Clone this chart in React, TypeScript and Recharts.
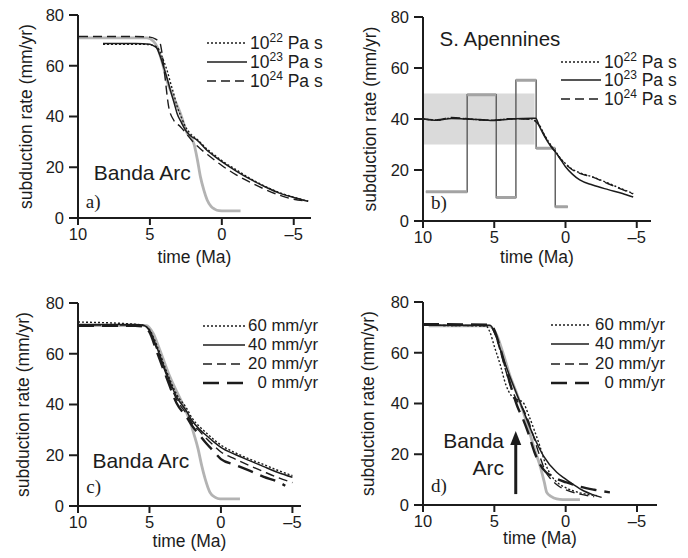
import React from "react";
import {
  LineChart,
  Line,
  XAxis,
  YAxis,
  ReferenceArea,
  ReferenceDot,
  ReferenceLine,
} from "recharts";

const FONT = '"Liberation Sans", Arial, Helvetica, sans-serif';
const SERIF = '"Liberation Serif", "Times New Roman", Times, serif';
const INK = "#1c1c1c";
const OBS = "#b3b3b3";

const timeTicks = [10, 5, 0, -5];
const rateTicks = [0, 20, 40, 60, 80];

// a) Banda Arc, three mantle viscosities
const aObsT = [9.93, 5.2, 4.75, 4.5, 4.16, 3.81, 3.35, 2.88, 2.42, 1.95, 1.7, 1.49, 1.25, 1.02, 0.75, 0.5, 0.2, -0.2, -1.3];
const aObsV = [71, 71, 69.6, 67.5, 61.6, 54, 47.5, 41.2, 33.5, 29.4, 23, 16.3, 11, 7.1, 4.6, 3.5, 2.9, 2.8, 2.8];
const aModT = [8.26, 6, 5.0, 4.7, 4.5, 4.3, 4.05, 3.8, 3.58, 3.3, 3.11, 2.8, 2.53, 2.2, 1.72, 1.0, 0.5, 0, -1, -2, -3, -4, -5, -6];
const a22V = [68.5, 68.5, 68.3, 67.8, 67.3, 65.5, 62, 58, 53.5, 48, 44, 39.5, 36, 33.3, 31, 27, 24.8, 22.6, 19, 15.5, 12.5, 10, 8.2, 6.6];
const a23V = [68.8, 68.8, 68.5, 67.7, 66.8, 64, 59.6, 55, 50.4, 45, 41.2, 37.5, 34.6, 32.5, 30.7, 26.5, 24.3, 22.2, 18.5, 15.2, 12.3, 9.8, 8.1, 6.6];
const a24T = [9.93, 6, 5.0, 4.6, 4.3, 4.16, 4.0, 3.7, 3.35, 2.88, 2.5, 2.0, 1.5, 1.0, 0.5, 0, -1, -2, -3, -4, -5, -6];
const a24V = [71.5, 71.5, 71.3, 70.5, 69, 65, 58, 44, 38.6, 36, 33.5, 30, 27.3, 25, 22.8, 20.7, 17, 14, 11.3, 9, 7.4, 6.6];

// b) S. Apennines
const bBand = { t0: 10, t1: 2.17, lo: 30, hi: 50 };
const bStepT = [9.8, 6.9, 4.86, 3.48, 2.06, 0.72, -0.16];
const bStepV = [11.5, 49.5, 9.2, 55.2, 28.5, 5.6];
const bModT = [10, 9, 8, 7, 6, 5, 4, 3, 2.3, 2.1, 1.82, 1.5, 1.0, 0.65, 0.3, 0, -0.5, -1, -1.9, -3, -4, -4.75];
const b22V = [40, 39.6, 40.4, 40.1, 39.7, 39.5, 40, 40.1, 40, 39.2, 37.5, 34, 29.5, 26.9, 24.2, 22.5, 20.2, 18.9, 17.3, 14.8, 12.5, 10.8];
const b23V = [40, 39.5, 40.2, 40, 39.8, 39.4, 39.9, 40.2, 40.3, 40.3, 37, 33.5, 29, 26.6, 23.8, 21.3, 18.3, 16.1, 14.1, 12.3, 10.8, 9.4];
const b24V = [40, 39.7, 40.6, 40.2, 39.6, 39.5, 40.1, 40, 39.8, 39, 37.3, 33.8, 29.3, 26.7, 24, 22.3, 20, 18.7, 17.2, 14.6, 12.3, 10.6];

// c) Banda Arc, plate speeds
const cObsT = [9.95, 5.2, 4.74, 4.27, 3.57, 2.87, 2.5, 2.17, 1.9, 1.6, 1.35, 1.1, 0.77, 0.4, 0.07, -1.33];
const cObsV = [71.1, 71.1, 68, 61.4, 50.9, 42.5, 38, 33.5, 28.5, 22.5, 16, 10.6, 5.4, 3.4, 2.8, 2.8];
const cModT = [10, 6, 5.5, 5.0, 4.5, 3.8, 3.1, 2.4, 2.0, 1.5, 1.0, 0.5, 0, -1, -2, -3, -4, -5];
const c60V = [72.5, 71.6, 71.3, 69.5, 63.5, 53, 44, 38.5, 34.5, 31.3, 28.7, 26.2, 24, 21, 18.5, 16.3, 14, 12];
const c40V = [71.5, 71.5, 71.3, 69.3, 62.7, 52.2, 43, 37.3, 33.5, 30.2, 27.7, 25.3, 23.1, 20.3, 17.9, 15.5, 13.2, 11.3];
const c20V = [71.3, 71.3, 71.2, 69, 62, 51.5, 42, 36.2, 32.5, 29.5, 26.5, 23.8, 21.3, 18.5, 15.9, 13.5, 11.2, 9.2];
const c0T = [10, 6, 5.5, 5.0, 4.5, 3.8, 3.1, 2.4, 2.0, 1.5, 1.0, 0.5, 0, -1, -2, -3, -4, -4.5];
const c0V = [71, 71, 70.8, 68.5, 61, 50.5, 40.5, 35, 31.5, 28, 24.5, 21.5, 18.5, 16.2, 13.9, 11.5, 9.5, 8];

// d) Banda Arc, plate speeds (second set)
const dObsT = [9.6, 5.4, 4.8, 4.4, 3.9, 3.4, 2.96, 2.6, 2.26, 1.8, 1.5, 1.33, 1.0, 0.63, 0.2, -1];
const dObsV = [70.6, 70.6, 66.6, 60, 50.9, 43.5, 36.5, 30, 23.3, 15.5, 9, 5, 3.3, 2.4, 2.1, 2.1];
const d60T = [10, 5.6, 5.3, 5.0, 4.6, 4.2, 3.8, 3.4, 3.0, 2.6, 2.2, 1.8, 1.4, 1.0, 0.5, 0, -1, -2.2];
const d60V = [70.8, 70.6, 68, 62.5, 55.5, 47.5, 43, 41.5, 40.5, 35.5, 29.5, 23, 16, 11.5, 8.5, 6.8, 4.8, 3.7];
const d40T = [10, 5.3, 4.94, 4.36, 3.66, 2.96, 2.26, 1.56, 0.63, 0, -0.6, -1.24, -1.9, -2.52];
const d40V = [70.8, 70.8, 67.3, 57.4, 47, 37.1, 27.3, 19.4, 12.9, 10.2, 7.8, 5.6, 4.1, 3.0];
const d20T = [10, 5.3, 5.0, 4.6, 4.2, 3.8, 3.4, 3.0, 2.6, 2.2, 1.8, 1.4, 1.0, 0.5, 0, -1, -2];
const d20V = [70.8, 70.6, 68, 61, 53, 46, 41, 38, 33, 26, 19, 13, 10, 7.5, 6, 4.3, 3.3];
const d0T = [10, 5.3, 5.0, 4.6, 4.2, 3.8, 3.4, 3.0, 2.6, 2.2, 1.8, 1.4, 1.0, 0.5, 0, -1, -2, -3.1];
const d0V = [71.3, 71, 69, 62, 54, 46, 39, 34, 28, 21, 16, 13, 11.5, 10, 9, 7.2, 6, 5];
const dArrow = { t: 3.5, from: 4.3, to: 24, tip: 29.2 };

const viscExps = ["22", "23", "24"];
const pullRates = ["60", "40", "20", "0"];

const pts = (ts: number[], vs: (number | null)[]) => ts.map((t, i) => ({ t, v: vs[i] }));
const fmtTime = (v: number) => (v < 0 ? `\u2013${-v}` : `${v}`);

const DOT = { dash: "2 2", w: 1.4 };
const SOLID = { dash: undefined as string | undefined, w: 1.5 };
const DASH = { dash: "9 5", w: 1.4 };
const LONG = { dash: "16 8", w: 2.4 };

const model = (key: string, data: any[], st: { dash?: string; w: number }) => (
  <Line
    key={key}
    data={data}
    dataKey="v"
    type="monotone"
    stroke={INK}
    strokeWidth={st.w}
    strokeDasharray={st.dash}
    dot={false}
    activeDot={false}
    isAnimationActive={false}
  />
);

const observed = (key: string, data: any[]) => (
  <Line
    key={key}
    data={data}
    dataKey="v"
    type="monotone"
    stroke={OBS}
    strokeWidth={2.8}
    dot={false}
    activeDot={false}
    isAnimationActive={false}
  />
);

const note = (key: string, t: number, v: number, text: string, size: number, serif = false, pos: any = "center") => (
  <ReferenceDot
    key={key}
    x={t}
    y={v}
    r={0}
    fill="none"
    stroke="none"
    label={{ value: text, position: pos, offset: 0, fontSize: size, fontFamily: serif ? SERIF : FONT, fill: INK }}
  />
);

const ArrowHead = (props: any) => {
  const { cx, cy } = props;
  return <path d={`M${cx},${cy} L${cx - 5.5},${cy + 14} L${cx + 5.5},${cy + 14} Z`} fill={INK} />;
};

type Frame = { top: number; right: number; xh: number; yw: number; xMin: number; tOff: number; yOff: number };

function Panel({ left, top, f, children, legend }: { left: number; top: number; f: Frame; children: React.ReactNode; legend: React.ReactNode }) {
  return (
    <div style={{ position: "absolute", left, top, width: 344, height: 279 }}>
      <LineChart width={344} height={279} margin={{ top: f.top, right: f.right, bottom: 0, left: 0 }}>
        <XAxis
          type="number"
          dataKey="t"
          domain={[f.xMin, 10]}
          reversed
          ticks={timeTicks}
          interval={0}
          allowDataOverflow
          height={f.xh}
          tickFormatter={fmtTime}
          tickSize={7}
          tickMargin={3}
          axisLine={{ stroke: INK, strokeWidth: 2 }}
          tickLine={{ stroke: INK, strokeWidth: 2 }}
          tick={{ fill: INK, fontSize: 16.5, fontFamily: FONT }}
          label={{ value: "time (Ma)", position: "insideBottom", offset: f.tOff, fill: INK, fontSize: 17.5, fontFamily: FONT }}
        />
        <YAxis
          type="number"
          domain={[0, 80]}
          ticks={rateTicks}
          interval={0}
          width={f.yw}
          tickSize={9}
          tickMargin={5}
          axisLine={{ stroke: INK, strokeWidth: 2 }}
          tickLine={{ stroke: INK, strokeWidth: 2 }}
          tick={{ fill: INK, fontSize: 16.5, fontFamily: FONT }}
          label={{
            value: "subduction rate (mm/yr)",
            angle: -90,
            position: "insideLeft",
            offset: f.yOff,
            style: { textAnchor: "middle" },
            fill: INK,
            fontSize: 17.5,
            fontFamily: FONT,
          }}
        />
        {children}
      </LineChart>
      {legend}
    </div>
  );
}

type Row = { label: React.ReactNode; st: { dash?: string; w: number } };

function Key({ rows, y0, gap, x0, x1, size, textLeft, textRight }: { rows: Row[]; y0: number; gap: number; x0: number; x1: number; size: number; textLeft?: number; textRight?: number }) {
  return (
    <>
      {rows.map((r, i) => {
        const yc = y0 + i * gap;
        const w = x1 - x0;
        const place = textRight != null ? { right: 344 - textRight, textAlign: "right" as const } : { left: textLeft };
        return (
          <React.Fragment key={i}>
            <svg style={{ position: "absolute", left: x0, top: yc - 3 }} width={w} height={6}>
              <line x1={0} y1={3} x2={w} y2={3} stroke={INK} strokeWidth={r.st.w} strokeDasharray={r.st.dash} />
            </svg>
            <div
              style={{
                position: "absolute",
                top: yc - 10,
                height: 20,
                lineHeight: "20px",
                fontSize: size,
                fontFamily: FONT,
                color: INK,
                whiteSpace: "nowrap",
                ...place,
              }}
            >
              {r.label}
            </div>
          </React.Fragment>
        );
      })}
    </>
  );
}

const viscLabel = (e: string) => (
  <span>
    10<span style={{ fontSize: 12, position: "relative", top: -7, lineHeight: 1 }}>{e}</span> Pa s
  </span>
);

const viscRows: Row[] = viscExps.map((e, i) => ({ label: viscLabel(e), st: [DOT, SOLID, DASH][i] }));
const rateRows: Row[] = pullRates.map((r, i) => ({ label: `${r} mm/yr`, st: [DOT, SOLID, DASH, LONG][i] }));

const bStepLine = bStepT.map((t, i) => ({ t, v: bStepV[Math.min(i, bStepV.length - 1)] }));
const bStepBars = bStepV.flatMap((v, i) => [
  { t: bStepT[i], v },
  { t: bStepT[i + 1], v },
  { t: bStepT[i + 1], v: null },
]);

export default function App() {
  return (
    <div style={{ position: "absolute", left: 0, top: 0, width: 688, height: 558, background: "#fff" }}>
      <Panel
        left={0}
        top={0}
        f={{ top: 15, right: 33, xh: 61, yw: 78, xMin: -6.2, tOff: 16, yOff: 26 }}
        legend={<Key rows={viscRows} y0={43} gap={19} x0={207} x1={247} size={17.5} textLeft={250} />}
      >
        {observed("obs", pts(aObsT, aObsV))}
        {model("a22", pts(aModT, a22V), DOT)}
        {model("a23", pts(aModT, a23V), SOLID)}
        {model("a24", pts(a24T, a24V), DASH)}
        {note("nA", 5.53, 18.1, "Banda Arc", 21)}
        {note("lA", 8.95, 6.7, "a)", 19, true)}
      </Panel>

      <Panel
        left={344}
        top={0}
        f={{ top: 17, right: 37, xh: 58, yw: 79, xMin: -6, tOff: 16, yOff: 26 }}
        legend={<Key rows={viscRows} y0={61.7} gap={18.7} x0={217} x1={257} size={17.5} textLeft={260} />}
      >
        <ReferenceArea x1={bBand.t0} x2={bBand.t1} y1={bBand.lo} y2={bBand.hi} fill="#dadada" fillOpacity={1} stroke="none" />
        <Line data={bStepLine} dataKey="v" type="stepAfter" stroke="#5a5a5a" strokeWidth={1.4} dot={false} activeDot={false} isAnimationActive={false} />
        <Line data={bStepBars} dataKey="v" type="linear" stroke="#a3a3a3" strokeWidth={3} dot={false} activeDot={false} isAnimationActive={false} />
        {model("b22", pts(bModT, b22V), DOT)}
        {model("b23", pts(bModT, b23V), SOLID)}
        {model("b24", pts(bModT, b24V), DASH)}
        {note("nB", 4.6, 71.4, "S. Apennines", 20.5)}
        {note("lB", 8.88, 7.3, "b)", 19, true)}
      </Panel>

      <Panel
        left={0}
        top={279}
        f={{ top: 24, right: 43, xh: 52, yw: 78, xMin: -5.6, tOff: 11, yOff: 23 }}
        legend={<Key rows={rateRows} y0={46.7} gap={19.1} x0={203} x1={245} size={16.8} textRight={318} />}
      >
        {observed("obs", pts(cObsT, cObsV))}
        {model("c60", pts(cModT, c60V), DOT)}
        {model("c40", pts(cModT, c40V), SOLID)}
        {model("c20", pts(cModT, c20V), DASH)}
        {model("c0", pts(c0T, c0V), LONG)}
        {note("nC", 5.6, 17.8, "Banda Arc", 21)}
        {note("lC", 8.9, 7.9, "c)", 19, true)}
      </Panel>

      <Panel
        left={344}
        top={279}
        f={{ top: 23, right: 31, xh: 53, yw: 79, xMin: -6.4, tOff: 14, yOff: 24 }}
        legend={<Key rows={rateRows} y0={46} gap={19.3} x0={207} x1={245} size={16.8} textRight={321} />}
      >
        {observed("obs", pts(dObsT, dObsV))}
        {model("d60", pts(d60T, d60V), DOT)}
        {model("d40", pts(d40T, d40V), SOLID)}
        {model("d20", pts(d20T, d20V), DASH)}
        {model("d0", pts(d0T, d0V), LONG)}
        <ReferenceLine
          segment={[
            { x: dArrow.t, y: dArrow.from },
            { x: dArrow.t, y: dArrow.to },
          ]}
          stroke={INK}
          strokeWidth={3}
        />
        <ReferenceDot x={dArrow.t} y={dArrow.tip} r={0} shape={ArrowHead} />
        {note("nD1", 4.32, 25.3, "Banda", 21, false, "left")}
        {note("nD2", 4.32, 14.8, "Arc", 21, false, "left")}
        {note("lD", 8.88, 7.6, "d)", 19, true)}
      </Panel>
    </div>
  );
}
